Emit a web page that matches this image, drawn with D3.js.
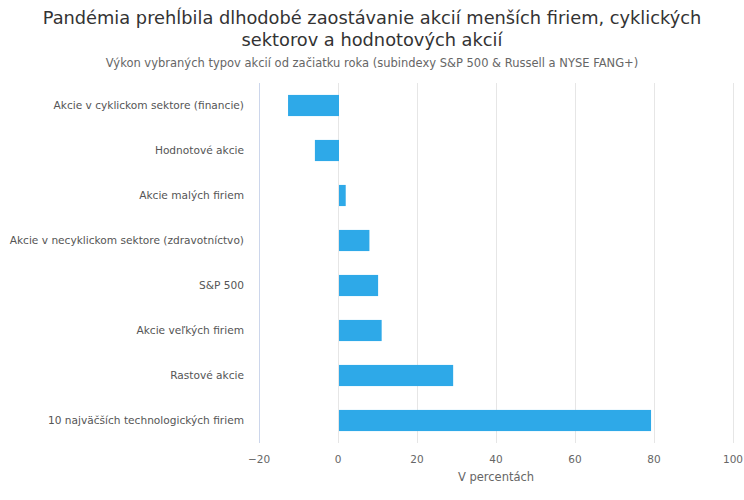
<!DOCTYPE html>
<html>
<head>
<meta charset="utf-8">
<script src="https://cdn.jsdelivr.net/npm/d3@7"></script>
<style>
  body { margin: 0; background: #fff; }
  svg { font-family: "DejaVu Sans", sans-serif; }
</style>
</head>
<body>
<div id="chart"></div>
<script>
// data
const categories = [
  "Akcie v cyklickom sektore (financie)",
  "Hodnotové akcie",
  "Akcie malých firiem",
  "Akcie v necyklickom sektore (zdravotníctvo)",
  "S&P 500",
  "Akcie veľkých firiem",
  "Rastové akcie",
  "10 najväčších technologických firiem"
];
const values = [-12.9, -6.1, 1.7, 7.7, 9.9, 10.8, 28.9, 79];
const xTicks = [-20, 0, 20, 40, 60, 80, 100];

const width = 744, height = 500;
const margin = { top: 83, right: 11, bottom: 57, left: 259 };

const svg = d3.select("#chart").append("svg")
  .attr("width", width)
  .attr("height", height);

// title
svg.append("text")
  .attr("x", width / 2).attr("y", 24)
  .attr("text-anchor", "middle")
  .attr("font-size", "17.8px").attr("fill", "#333")
  .text("Pandémia prehĺbila dlhodobé zaostávanie akcií menších firiem, cyklických");
svg.append("text")
  .attr("x", width / 2).attr("y", 46)
  .attr("text-anchor", "middle")
  .attr("font-size", "17.8px").attr("fill", "#333")
  .text("sektorov a hodnotových akcií");
svg.append("text")
  .attr("x", width / 2).attr("y", 67)
  .attr("text-anchor", "middle")
  .attr("font-size", "11.5px").attr("fill", "#666")
  .text("Výkon vybraných typov akcií od začiatku roka (subindexy S&P 500 & Russell a NYSE FANG+)");

const x = d3.scaleLinear()
  .domain([-20, 100])
  .range([margin.left, width - margin.right]);

const y = d3.scaleBand()
  .domain(categories)
  .range([margin.top, height - margin.bottom])
  .paddingInner(0.53)
  .paddingOuter(0.265);

// grid lines
svg.append("g")
  .selectAll("line")
  .data(xTicks.slice(1))
  .join("line")
  .attr("x1", d => x(d) + 0.5).attr("x2", d => x(d) + 0.5)
  .attr("y1", margin.top).attr("y2", height - margin.bottom)
  .attr("stroke", "#e6e6e6");

// y axis line
svg.append("line")
  .attr("x1", margin.left + 0.5).attr("x2", margin.left + 0.5)
  .attr("y1", margin.top).attr("y2", height - margin.bottom)
  .attr("stroke", "#ccd6eb");

// bars
svg.append("g")
  .selectAll("rect")
  .data(values)
  .join("rect")
  .attr("x", d => x(Math.min(0, d)) + 1)
  .attr("y", (d, i) => y(categories[i]))
  .attr("width", d => Math.abs(x(d) - x(0)))
  .attr("height", y.bandwidth())
  .attr("fill", "#2ea9e8");

// category labels
svg.append("g")
  .selectAll("text")
  .data(categories)
  .join("text")
  .attr("x", margin.left - 15)
  .attr("y", d => y(d) + y.bandwidth() / 2)
  .attr("dy", "0.35em")
  .attr("text-anchor", "end")
  .attr("font-size", "10.6px")
  .attr("fill", "#555")
  .text(d => d);

// x tick labels
svg.append("g")
  .selectAll("text")
  .data(xTicks)
  .join("text")
  .attr("x", d => x(d))
  .attr("y", height - margin.bottom + 20)
  .attr("text-anchor", "middle")
  .attr("font-size", "10.5px")
  .attr("fill", "#666")
  .text(d => d < 0 ? "\u2212" + Math.abs(d) : d);

// axis title
svg.append("text")
  .attr("x", (margin.left + width - margin.right) / 2)
  .attr("y", height - margin.bottom + 38)
  .attr("text-anchor", "middle")
  .attr("font-size", "11.5px")
  .attr("fill", "#666")
  .text("V percentách");
</script>
</body>
</html>
